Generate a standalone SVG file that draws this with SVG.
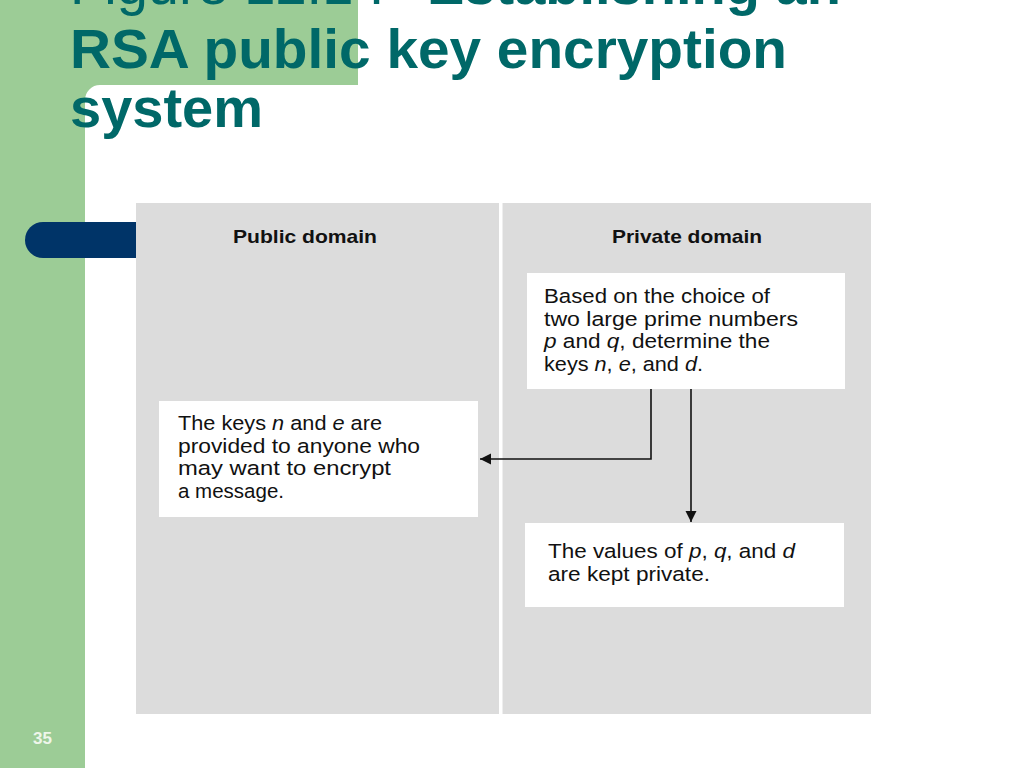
<svg xmlns="http://www.w3.org/2000/svg" width="1024" height="768" viewBox="0 0 1024 768">
  <defs>
    <style>
      .title { font-family: "Liberation Sans", Arial, sans-serif; font-size: 56px; fill: #006868; }
      .hdr { font-family: "Liberation Sans", Arial, sans-serif; font-size: 19px; font-weight: bold; fill: #111; }
      .txt { font-family: "Liberation Sans", Arial, sans-serif; font-size: 20.5px; fill: #111; }
      .box { fill: #ffffff; }
      .conn { fill: none; stroke: #111; stroke-width: 1.6; }
    </style>
    <marker id="arrow" markerUnits="userSpaceOnUse" markerWidth="12" markerHeight="12" viewBox="0 0 12 12" refX="11" refY="6" orient="auto">
      <path d="M0,0.5 L11,6 L0,11.5 Z" fill="#111"/>
    </marker>
  </defs>

  <!-- background -->
  <rect x="0" y="0" width="1024" height="768" fill="#ffffff"/>
  <g id="slide-frame">
    <rect x="0" y="0" width="85" height="768" fill="#9ccc96"/>
    <rect x="0" y="0" width="358" height="85" fill="#9ccc96"/>
    <path d="M85,85 L100,85 A15,15 0 0 0 85,100 Z" fill="#9ccc96"/>
    <path d="M43,222 L136,222 L136,258 L43,258 A18,18 0 0 1 43,222 Z" fill="#003468"/>
    <text x="42.5" y="744" text-anchor="middle" font-family="Liberation Sans, Arial, sans-serif" font-size="17" font-weight="bold" fill="#eef6ea">35</text>
  </g>

  <g id="title">
    <text class="title" x="70" y="4"><tspan>Figure 12.1 :</tspan><tspan x="427" font-weight="bold">Establishing an</tspan></text>
    <text class="title" x="70" y="68" font-weight="bold" textLength="717" lengthAdjust="spacingAndGlyphs">RSA public key encryption</text>
    <text class="title" x="70" y="127" font-weight="bold" textLength="193" lengthAdjust="spacingAndGlyphs">system</text>
  </g>

  <g id="panel">
    <rect x="136" y="203" width="735" height="511" fill="#dcdcdc"/>
    <rect x="499" y="203" width="3.5" height="511" fill="#ffffff"/>
  </g>

  <g id="public-domain-header">
    <text class="hdr" x="233" y="243" textLength="144" lengthAdjust="spacingAndGlyphs">Public domain</text>
  </g>
  <g id="private-domain-header">
    <text class="hdr" x="612" y="243" textLength="150" lengthAdjust="spacingAndGlyphs">Private domain</text>
  </g>

  <g id="node-determine-keys">
    <rect class="box" x="527" y="273" width="318" height="116"/>
    <text class="txt" x="544" y="303" textLength="226" lengthAdjust="spacingAndGlyphs">Based on the choice of</text>
    <text class="txt" x="544" y="326" textLength="254" lengthAdjust="spacingAndGlyphs">two large prime numbers</text>
    <text class="txt" x="544" y="348" textLength="226" lengthAdjust="spacingAndGlyphs"><tspan font-style="italic">p</tspan> and <tspan font-style="italic">q</tspan>, determine the</text>
    <text class="txt" x="544" y="371" textLength="159" lengthAdjust="spacingAndGlyphs">keys <tspan font-style="italic">n</tspan>, <tspan font-style="italic">e</tspan>, and <tspan font-style="italic">d</tspan>.</text>
  </g>

  <g id="node-public-keys">
    <rect class="box" x="159" y="401" width="319" height="116"/>
    <text class="txt" x="178" y="430" textLength="204" lengthAdjust="spacingAndGlyphs">The keys <tspan font-style="italic">n</tspan> and <tspan font-style="italic">e</tspan> are</text>
    <text class="txt" x="178" y="453" textLength="242" lengthAdjust="spacingAndGlyphs">provided to anyone who</text>
    <text class="txt" x="178" y="475" textLength="213" lengthAdjust="spacingAndGlyphs">may want to encrypt</text>
    <text class="txt" x="178" y="498">a message.</text>
  </g>

  <g id="node-private-values">
    <rect class="box" x="525" y="523" width="319" height="84"/>
    <text class="txt" x="548" y="558" textLength="247" lengthAdjust="spacingAndGlyphs">The values of <tspan font-style="italic">p</tspan>, <tspan font-style="italic">q</tspan>, and <tspan font-style="italic">d</tspan></text>
    <text class="txt" x="548" y="581" textLength="162" lengthAdjust="spacingAndGlyphs">are kept private.</text>
  </g>

  <g id="connectors">
    <path class="conn" d="M651,389 L651,459 L480,459" marker-end="url(#arrow)"/>
    <path class="conn" d="M691,389 L691,522" marker-end="url(#arrow)"/>
  </g>
</svg>
